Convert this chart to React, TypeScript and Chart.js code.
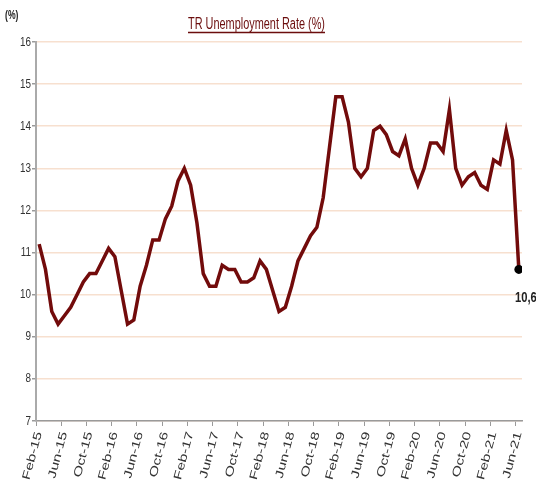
import React, { useEffect, useRef } from 'react';
import { Chart, registerables } from 'chart.js';

Chart.register(...registerables);

const months: string[] = [
  'Feb-15', 'Mar-15', 'Apr-15', 'May-15', 'Jun-15', 'Jul-15', 'Aug-15', 'Sep-15', 'Oct-15', 'Nov-15', 'Dec-15',
  'Jan-16', 'Feb-16', 'Mar-16', 'Apr-16', 'May-16', 'Jun-16', 'Jul-16', 'Aug-16', 'Sep-16', 'Oct-16', 'Nov-16', 'Dec-16',
  'Jan-17', 'Feb-17', 'Mar-17', 'Apr-17', 'May-17', 'Jun-17', 'Jul-17', 'Aug-17', 'Sep-17', 'Oct-17', 'Nov-17', 'Dec-17',
  'Jan-18', 'Feb-18', 'Mar-18', 'Apr-18', 'May-18', 'Jun-18', 'Jul-18', 'Aug-18', 'Sep-18', 'Oct-18', 'Nov-18', 'Dec-18',
  'Jan-19', 'Feb-19', 'Mar-19', 'Apr-19', 'May-19', 'Jun-19', 'Jul-19', 'Aug-19', 'Sep-19', 'Oct-19', 'Nov-19', 'Dec-19',
  'Jan-20', 'Feb-20', 'Mar-20', 'Apr-20', 'May-20', 'Jun-20', 'Jul-20', 'Aug-20', 'Sep-20', 'Oct-20', 'Nov-20', 'Dec-20',
  'Jan-21', 'Feb-21', 'Mar-21', 'Apr-21', 'May-21', 'Jun-21',
];

const unemployment: number[] = [
  11.2, 10.6, 9.6, 9.3, 9.5, 9.7, 10.0, 10.3, 10.5, 10.5, 10.8,
  11.1, 10.9, 10.1, 9.3, 9.4, 10.2, 10.7, 11.3, 11.3, 11.8, 12.1, 12.7,
  13.0, 12.6, 11.7, 10.5, 10.2, 10.2, 10.7, 10.6, 10.6, 10.3, 10.3, 10.4,
  10.8, 10.6, 10.1, 9.6, 9.7, 10.2, 10.8, 11.1, 11.4, 11.6, 12.3, 13.5,
  14.7, 14.7, 14.1, 13.0, 12.8, 13.0, 13.9, 14.0, 13.8, 13.4, 13.3, 13.7,
  13.0, 12.6, 13.0, 13.6, 13.6, 13.4, 14.4, 13.0, 12.6, 12.8, 12.9, 12.6,
  12.5, 13.2, 13.1, 13.9, 13.2, 10.6,
];

const tickLabels: string[] = [
  'Feb-15', 'Jun-15', 'Oct-15', 'Feb-16', 'Jun-16', 'Oct-16', 'Feb-17', 'Jun-17', 'Oct-17', 'Feb-18',
  'Jun-18', 'Oct-18', 'Feb-19', 'Jun-19', 'Oct-19', 'Feb-20', 'Jun-20', 'Oct-20', 'Feb-21', 'Jun-21',
];

const yTicks: number[] = [7, 8, 9, 10, 11, 12, 13, 14, 15, 16];

const TITLE = 'TR Unemployment Rate (%)';
const UNIT = '(%)';
const LAST_LABEL = '10,6';

const FONT = "'Liberation Sans', Arial, sans-serif";

// draws text squeezed horizontally (narrow look)
function narrowText(ctx: CanvasRenderingContext2D, text: string, x: number, y: number, sx: number, align: CanvasTextAlign) {
  ctx.save();
  ctx.translate(x, y);
  ctx.scale(sx, 1);
  ctx.textAlign = align;
  ctx.fillText(text, 0, 0);
  ctx.restore();
}

const decorPlugin = {
  id: 'decor',
  afterDraw(chart: any) {
    const ctx: CanvasRenderingContext2D = chart.ctx;
    const xs = chart.scales.x;
    const ys = chart.scales.y;
    ctx.save();

    // title (underlined)
    ctx.font = `16px ${FONT}`;
    ctx.fillStyle = '#6b0d0d';
    ctx.textBaseline = 'alphabetic';
    const targetW = 137;
    const rawW = ctx.measureText(TITLE).width;
    const tsx = targetW / rawW;
    const tx = 256.5;
    const ty = 29;
    narrowText(ctx, TITLE, tx, ty, tsx, 'center');
    ctx.strokeStyle = '#6b0d0d';
    ctx.lineWidth = 1.5;
    ctx.beginPath();
    ctx.moveTo(tx - targetW / 2, ty + 3.5);
    ctx.lineTo(tx + targetW / 2, ty + 3.5);
    ctx.stroke();

    // unit label
    ctx.font = `bold 12px ${FONT}`;
    ctx.fillStyle = '#222';
    narrowText(ctx, UNIT, 5, 19, 0.72, 'left');

    // y tick labels
    ctx.font = `13px ${FONT}`;
    ctx.fillStyle = '#333';
    ctx.textBaseline = 'middle';
    yTicks.forEach((v) => {
      narrowText(ctx, String(v), 31, ys.getPixelForValue(v), 0.76, 'right');
    });

    // x tick labels (rotated, elongated)
    ctx.font = `12px ${FONT}`;
    ctx.fillStyle = '#333';
    ctx.textBaseline = 'middle';
    const ang = (-75 * Math.PI) / 180;
    tickLabels.forEach((l) => {
      const px = xs.getPixelForValue(months.indexOf(l) - 0.5);
      ctx.save();
      ctx.translate(px + 3, xs.top + 11);
      ctx.rotate(ang);
      ctx.scale(1.3, 0.95);
      ctx.textAlign = 'right';
      ctx.fillText(l, 0, 0);
      ctx.restore();
    });

    // last value label
    const meta = chart.getDatasetMeta(0);
    const last = meta.data[meta.data.length - 1];
    ctx.font = `bold 14px ${FONT}`;
    ctx.fillStyle = '#222';
    ctx.textBaseline = 'middle';
    narrowText(ctx, LAST_LABEL, last.x + 7, last.y + 29, 0.8, 'center');

    ctx.restore();
  },
};

export default function App() {
  const ref = useRef<HTMLCanvasElement | null>(null);

  useEffect(() => {
    if (!ref.current) return;
    const points = unemployment.map((v, i) => ({ x: i, y: v }));
    const radii = unemployment.map((_, i) => (i === unemployment.length - 1 ? 4.5 : 0));
    const chart = new Chart(ref.current, {
      type: 'line',
      data: {
        datasets: [
          {
            label: 'Unemployment',
            data: points,
            borderColor: '#720b0b',
            borderWidth: 3.5,
            tension: 0,
            pointRadius: radii,
            pointHoverRadius: radii,
            pointBackgroundColor: '#000',
            pointBorderColor: '#000',
            pointBorderWidth: 0,
          },
        ],
      },
      options: {
        animation: false,
        responsive: false,
        devicePixelRatio: 1,
        layout: { padding: { top: 42, right: 14, left: 0, bottom: 0 } },
        plugins: {
          legend: { display: false },
          tooltip: { enabled: false },
          title: { display: false },
        },
        scales: {
          x: {
            type: 'linear',
            min: -0.5,
            max: months.length - 0.5,
            afterBuildTicks: (scale: any) => {
              scale.ticks = tickLabels.map((l) => ({ value: months.indexOf(l) - 0.5 }));
            },
            afterFit: (scale: any) => {
              scale.height = 65;
            },
            grid: { drawOnChartArea: false, tickLength: 5, color: '#9a9a9a', lineWidth: 1 },
            border: { color: '#9a9a9a', width: 1.5 },
            ticks: { display: false, autoSkip: false },
          },
          y: {
            min: 7,
            max: 16,
            afterBuildTicks: (scale: any) => {
              scale.ticks = yTicks.map((v) => ({ value: v }));
            },
            afterFit: (scale: any) => {
              scale.width = 36;
            },
            grid: { color: '#f7e0cf', lineWidth: 1.5, tickLength: 4, tickColor: '#9a9a9a' },
            border: { color: '#aaaaaa', width: 2 },
            ticks: { display: false },
          },
        },
      },
      plugins: [decorPlugin],
    } as any);
    return () => chart.destroy();
  }, []);

  return (
    <div style={{ position: 'fixed', left: 0, top: 0, width: 536, height: 486, background: '#fff' }}>
      <canvas ref={ref} width={536} height={486} style={{ width: 536, height: 486, display: 'block' }} />
    </div>
  );
}
